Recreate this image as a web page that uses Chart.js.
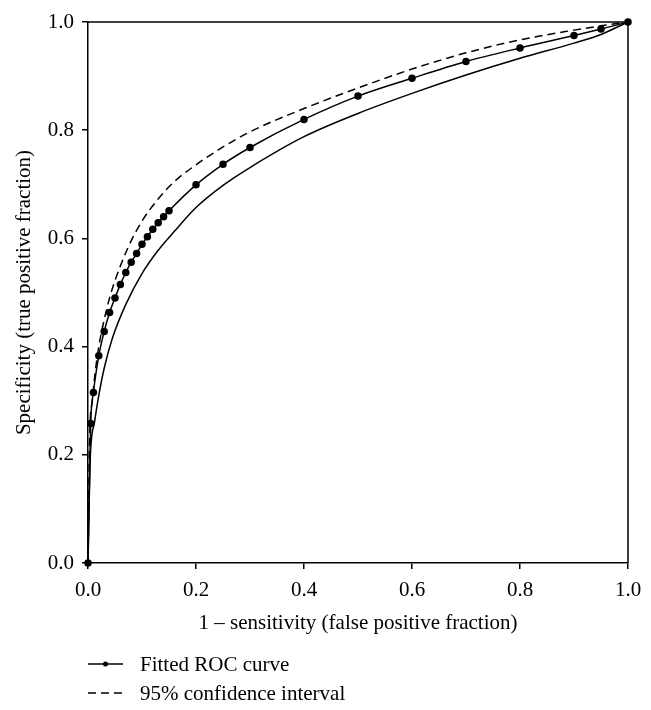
<!DOCTYPE html>
<html>
<head>
<meta charset="utf-8">
<script src="https://cdn.jsdelivr.net/npm/chart.js@4.4.1/dist/chart.umd.min.js"></script>
<style>
  html, body { margin: 0; padding: 0; background: #fff; }
  #wrap { width: 651px; height: 710px; }
</style>
</head>
<body>
<div id="wrap"><canvas id="c" width="651" height="710"></canvas></div>
<script>
// Fitted ROC curve points
const fprFit = [0, 0.005, 0.01, 0.02, 0.03, 0.04, 0.05, 0.06, 0.07, 0.08, 0.09, 0.10, 0.11, 0.12, 0.13, 0.14, 0.15, 0.2, 0.25, 0.3, 0.4, 0.5, 0.6, 0.7, 0.8, 0.9, 0.95, 1];
const tprFit = [0, 0.258, 0.315, 0.383, 0.428, 0.463, 0.49, 0.515, 0.537, 0.556, 0.572, 0.589, 0.603, 0.617, 0.629, 0.64, 0.651, 0.699, 0.737, 0.768, 0.82, 0.863, 0.896, 0.927, 0.952, 0.975, 0.987, 1];
// Lower 95% CI (solid)
const fprLow = [0, 0.004, 0.012, 0.02, 0.03, 0.045, 0.07, 0.1, 0.13, 0.16, 0.2, 0.25, 0.3, 0.4, 0.5, 0.6, 0.7, 0.8, 0.9, 0.95, 1];
const tprLow = [0, 0.19, 0.26, 0.31, 0.36, 0.415, 0.478, 0.535, 0.578, 0.613, 0.657, 0.698, 0.731, 0.788, 0.831, 0.868, 0.902, 0.933, 0.961, 0.977, 1];
// Upper 95% CI (dashed)
const fprUp = [0, 0.003, 0.008, 0.013, 0.02, 0.03, 0.04, 0.05, 0.075, 0.1, 0.13, 0.16, 0.2, 0.25, 0.3, 0.4, 0.5, 0.6, 0.7, 0.8, 0.9, 0.95, 1];
const tprUp = [0, 0.23, 0.3, 0.35, 0.4, 0.45, 0.49, 0.522, 0.585, 0.632, 0.673, 0.705, 0.736, 0.769, 0.797, 0.84, 0.878, 0.913, 0.943, 0.967, 0.985, 0.993, 1];
// Tick labels
const tickValues = [0, 0.2, 0.4, 0.6, 0.8, 1.0];
const xTitle = '1 \u2013 sensitivity (false positive fraction)';
const yTitle = 'Specificity (true positive fraction)';
const legendLabels = ['Fitted ROC curve', '95% confidence interval'];

const pts = (xs, ys) => xs.map((x, i) => ({ x: x, y: ys[i] }));
const FONT = '"Liberation Serif", "DejaVu Serif", serif';

const frame = {
  id: 'frame',
  afterDatasetsDraw(chart) {
    const a = chart.chartArea, ctx = chart.ctx;
    ctx.save();
    ctx.strokeStyle = '#000';
    ctx.lineWidth = 1.5;
    ctx.beginPath();
    ctx.moveTo(a.left, a.top);
    ctx.lineTo(a.right, a.top);
    ctx.lineTo(a.right, a.bottom);
    ctx.stroke();
    ctx.restore();
  }
};

const legendPlugin = {
  id: 'customLegend',
  afterDraw(chart) {
    const ctx = chart.ctx;
    ctx.save();
    ctx.fillStyle = '#000';
    ctx.strokeStyle = '#000';
    ctx.lineWidth = 1.5;
    ctx.font = '21px ' + FONT;
    ctx.textBaseline = 'alphabetic';
    const x0 = 88, x1 = 123, tx = 140;
    // row 1
    let y = 664;
    ctx.beginPath(); ctx.moveTo(x0, y); ctx.lineTo(x1, y); ctx.stroke();
    ctx.beginPath(); ctx.arc((x0 + x1) / 2, y, 2.5, 0, Math.PI * 2); ctx.fill();
    ctx.fillText(legendLabels[0], tx, y + 7);
    // row 2
    y = 693;
    ctx.setLineDash([8, 5]);
    ctx.beginPath(); ctx.moveTo(x0, y); ctx.lineTo(x1, y); ctx.stroke();
    ctx.setLineDash([]);
    ctx.fillText(legendLabels[1], tx, y + 7);
    ctx.restore();
  }
};

new Chart(document.getElementById('c'), {
  type: 'line',
  data: {
    datasets: [
      {
        label: legendLabels[0],
        data: pts(fprFit, tprFit),
        borderColor: '#000',
        backgroundColor: '#000',
        borderWidth: 1.5,
        pointRadius: 3,
        pointHoverRadius: 3,
        cubicInterpolationMode: 'monotone',
        fill: false
      },
      {
        label: 'Lower CI',
        data: pts(fprLow, tprLow),
        borderColor: '#000',
        borderWidth: 1.5,
        pointRadius: 0,
        cubicInterpolationMode: 'monotone',
        fill: false
      },
      {
        label: legendLabels[1],
        data: pts(fprUp, tprUp),
        borderColor: '#000',
        borderWidth: 1.5,
        borderDash: [8, 5],
        pointRadius: 0,
        cubicInterpolationMode: 'monotone',
        fill: false
      }
    ]
  },
  options: {
    responsive: false,
    animation: false,
    clip: false,
    layout: { padding: { left: 0, top: 22, right: 23, bottom: 67 } },
    plugins: { legend: { display: false }, tooltip: { enabled: false } },
    scales: {
      x: {
        type: 'linear',
        min: 0, max: 1,
        afterBuildTicks(s) { s.ticks = tickValues.map(v => ({ value: v })); },
        afterFit(s) { s.height = 80; },
        ticks: {
          color: '#000',
          font: { family: FONT, size: 21 },
          padding: 9,
          maxRotation: 0,
          callback: v => Number(v).toFixed(1)
        },
        grid: { drawOnChartArea: false, drawTicks: true, tickLength: 6, color: '#000', lineWidth: 1.5 },
        border: { display: true, color: '#000', width: 1.5 },
        title: {
          display: true, text: xTitle, color: '#000',
          font: { family: FONT, size: 21 }, padding: { top: 4, bottom: 7 }
        }
      },
      y: {
        type: 'linear',
        min: 0, max: 1,
        afterBuildTicks(s) { s.ticks = tickValues.map(v => ({ value: v })); },
        afterFit(s) { s.width = 88; },
        ticks: {
          color: '#000',
          font: { family: FONT, size: 21 },
          padding: 8,
          callback: v => Number(v).toFixed(1)
        },
        grid: { drawOnChartArea: false, drawTicks: true, tickLength: 6, color: '#000', lineWidth: 1.5 },
        border: { display: true, color: '#000', width: 1.5 },
        title: {
          display: true, text: yTitle, color: '#000',
          font: { family: FONT, size: 21 }, padding: { top: 12, bottom: 4 }
        }
      }
    }
  },
  plugins: [frame, legendPlugin]
});
</script>
</body>
</html>
